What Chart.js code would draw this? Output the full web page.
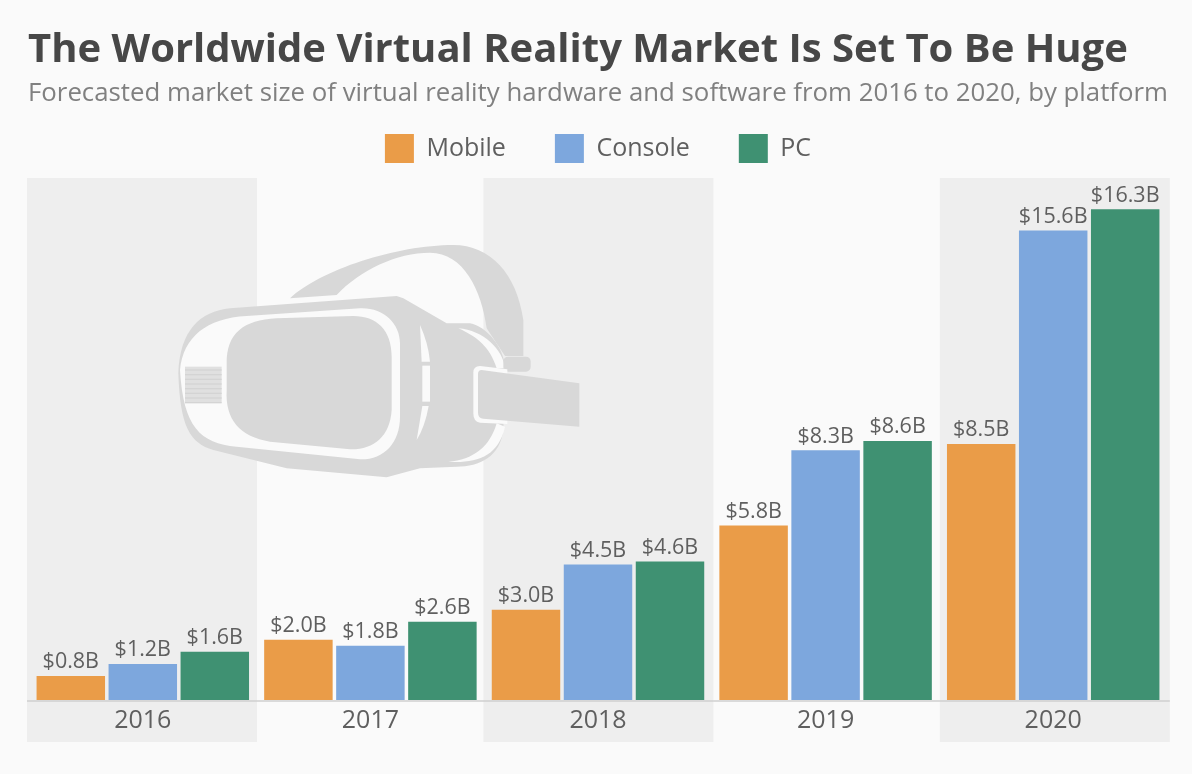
<!DOCTYPE html>
<html><head><meta charset="utf-8">
<style>
html,body{margin:0;padding:0;background:#fafafa;}
#wrap{position:relative;width:1192px;height:774px;overflow:hidden;}
canvas{position:absolute;left:0;top:0;}
</style>
<script src="https://cdn.jsdelivr.net/npm/chart.js@4"></script>
</head><body><div id="wrap"><canvas id="c" width="1192" height="774"></canvas></div>
<script>
const titleText="The Worldwide Virtual Reality Market Is Set To Be Huge";
const subtitleText="Forecasted market size of virtual reality hardware and software from 2016 to 2020, by platform";
const years=["2016","2017","2018","2019","2020"];
const mobile=[0.8,2.0,3.0,5.8,8.5];
const consoleV=[1.2,1.8,4.5,8.3,15.6];
const pc=[1.6,2.6,4.6,8.6,16.3];
const seriesNames=["Mobile","Console","PC"];
const seriesColors=["#ea9c48","#7da7dd","#3f9172"];
const font="'Open Sans'";
const BG='#fafafa',BAND='#eeeeee',ICON='#d8d8d8';

function drawHeadset(ctx){
  ctx.save();
  ctx.translate(170,230);ctx.scale(1/3,1/3);
  const P=(f,col)=>{ctx.fillStyle=col;ctx.beginPath();f();ctx.closePath();ctx.fill();};
  // head strap
  P(()=>{ctx.moveTo(360,205);ctx.bezierCurveTo(450,120,680,45,850,45);ctx.bezierCurveTo(960,45,1040,130,1060,270);
    ctx.lineTo(1060,378);ctx.lineTo(1005,378);ctx.lineTo(950,295);ctx.bezierCurveTo(935,180,880,68,780,68);
    ctx.bezierCurveTo(680,68,570,120,500,195);},ICON);
  // body
  P(()=>{ctx.moveTo(25,430);ctx.bezierCurveTo(30,300,90,245,180,235);ctx.lineTo(680,198);ctx.lineTo(700,205);ctx.lineTo(830,280);
    ctx.lineTo(900,280);ctx.bezierCurveTo(950,290,1000,350,1005,410);ctx.lineTo(1000,600);ctx.bezierCurveTo(990,680,930,710,860,710);
    ctx.lineTo(750,715);ctx.lineTo(650,742);ctx.lineTo(350,715);ctx.lineTo(130,660);ctx.bezierCurveTo(60,640,30,590,25,430);},ICON);
  // front rim
  P(()=>{ctx.moveTo(30,420);ctx.bezierCurveTo(40,320,110,265,230,258);ctx.lineTo(570,235);ctx.bezierCurveTo(640,232,690,280,690,340);
    ctx.lineTo(690,560);ctx.bezierCurveTo(690,640,640,690,570,688);ctx.lineTo(200,650);ctx.bezierCurveTo(90,640,40,590,30,420);},BG);
  // lens
  P(()=>{ctx.moveTo(170,400);ctx.bezierCurveTo(170,310,220,270,320,265);ctx.lineTo(550,258);ctx.bezierCurveTo(620,258,665,300,665,380);
    ctx.lineTo(665,540);ctx.bezierCurveTo(660,620,610,660,540,658);ctx.lineTo(300,635);ctx.bezierCurveTo(210,620,165,570,170,480);},ICON);
  // vent
  ctx.fillStyle='#e0e0e0';ctx.fillRect(45,410,110,108);
  ctx.fillStyle='#d4d4d4';for(let yy=418;yy<518;yy+=14){ctx.fillRect(45,yy,110,4);}
  // side slits
  P(()=>{ctx.moveTo(750,285);ctx.quadraticCurveTo(775,340,780,395);ctx.lineTo(755,395);},BG);
  P(()=>{ctx.rect(757,407,23,108);},BG);
  P(()=>{ctx.moveTo(757,528);ctx.lineTo(776,528);ctx.quadraticCurveTo(765,590,740,630);},BG);
  // right arcs
  P(()=>{ctx.moveTo(865,295);ctx.bezierCurveTo(940,300,1000,360,1005,415);ctx.lineTo(980,415);ctx.bezierCurveTo(960,350,920,320,865,295);},BG);
  P(()=>{ctx.moveTo(1005,590);ctx.bezierCurveTo(985,680,920,700,835,695);ctx.bezierCurveTo(910,690,960,650,980,580);},BG);
  // tab
  P(()=>{ctx.roundRect(1000,380,82,45,14);},ICON);
  // strap
  P(()=>{ctx.moveTo(930,408);ctx.lineTo(1012,418);ctx.lineTo(1012,582);ctx.lineTo(930,578);ctx.quadraticCurveTo(910,576,910,550);ctx.lineTo(910,428);ctx.quadraticCurveTo(910,408,930,408);},BG);
  P(()=>{ctx.moveTo(935,420);ctx.lineTo(1228,460);ctx.lineTo(1228,590);ctx.lineTo(940,566);ctx.quadraticCurveTo(924,564,924,548);ctx.lineTo(924,432);ctx.quadraticCurveTo(924,420,935,420);},ICON);
  ctx.restore();
}
const bandsPlugin={id:'bands',
  beforeInit(ch){
    const orig=ch.legend.fit;
    ch.legend.fit=function(){orig.call(this);this.height=93;this.minSize&&(this.minSize.height=93);};
  },
  beforeDraw(ch){
    const {ctx,chartArea:a}=ch;
    ctx.save();
    const left=a.left-2,w=(a.width+3)/5;
    years.forEach((y,i)=>{ if(i%2===0){
      ctx.fillStyle=BAND;
      ctx.fillRect(left+i*w,178,w+1.8,564);
    }});
    drawHeadset(ctx);
    ctx.strokeStyle='#cfcfcf';ctx.lineWidth=1.5;ctx.beginPath();ctx.moveTo(left,a.bottom+1);ctx.lineTo(left+5*w+1.8,a.bottom+1);ctx.stroke();
    ctx.restore();
  }};
const labelsPlugin={id:'vals',afterDatasetsDraw(ch){
  const {ctx}=ch;ctx.save();
  ctx.font="21.5px "+font;ctx.fillStyle='#5f5f5f';ctx.textAlign='center';ctx.textBaseline='bottom';
  ch.data.datasets.forEach((d,di)=>{
    ch.getDatasetMeta(di).data.forEach((b,i)=>{
      ctx.fillText('$'+d.data[i].toFixed(1)+'B',b.x,b.y-3);
    });
  });
  ctx.restore();
}};
const textPlugin={id:'txt',afterDraw(ch){
  const {ctx}=ch;ctx.save();
  ctx.textAlign='left';ctx.textBaseline='alphabetic';
  ctx.fillStyle='#474747';ctx.font="bold 40px "+font;
  ctx.fillText(titleText,28,62);
  ctx.fillStyle='#808080';ctx.font="25.8px "+font;
  ctx.fillText(subtitleText,28,101);
  ctx.restore();
}};
new Chart(document.getElementById('c'),{
  type:'bar',
  data:{labels:years,datasets:[
    {label:seriesNames[0],data:mobile,backgroundColor:seriesColors[0]},
    {label:seriesNames[1],data:consoleV,backgroundColor:seriesColors[1]},
    {label:seriesNames[2],data:pc,backgroundColor:seriesColors[2]}
  ]},
  options:{
    responsive:false,animation:false,devicePixelRatio:1,
    layout:{padding:{left:29,right:25,top:85,bottom:32}},
    datasets:{bar:{categoryPercentage:0.949,barPercentage:0.951}},
    plugins:{
      legend:{display:true,position:'top',align:'center',
        labels:{boxWidth:29,boxHeight:29,padding:49,color:'#5f5f5f',font:{family:font,size:25}}},
      tooltip:{enabled:false}
    },
    scales:{
      x:{grid:{display:false,drawTicks:false},border:{display:false},ticks:{color:'#5f5f5f',font:{family:font,size:25},padding:6}},
      y:{display:false,min:0,max:17.34}
    }
  },
  plugins:[bandsPlugin,labelsPlugin,textPlugin]
});
</script></body></html>
